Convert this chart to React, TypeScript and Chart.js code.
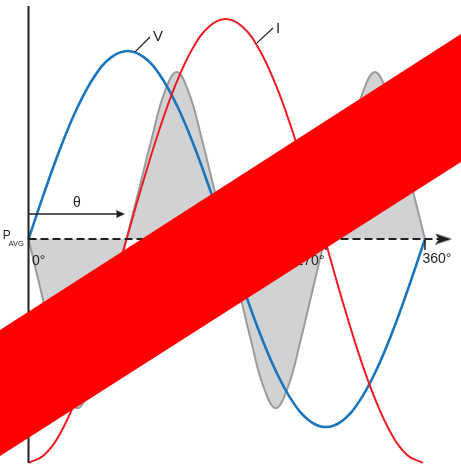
import React, { useEffect, useRef } from 'react';
import { Chart, registerables } from 'chart.js';

Chart.register(...registerables);

// ---- scale window (degrees across, arbitrary units up) ----
const DEG_MIN = -25.9;
const DEG_MAX = 392.7;
const Y_MIN = -122.3;
const Y_MAX = 127.1;

// ---- V (voltage) ----
const V_DEG = [0, 15, 30, 45, 60, 75, 90, 105, 120, 135, 150, 165, 180, 195, 210, 225, 240, 255, 270, 285, 300, 315, 330, 345, 360];
const V_VAL = [0, 25.9, 50, 70.7, 86.6, 96.6, 100, 96.6, 86.6, 70.7, 50, 25.9, 0, -25.9, -50, -70.7, -86.6, -96.6, -100, -96.6, -86.6, -70.7, -50, -25.9, 0];

// ---- I (current) ----
const I_DEG = [0, 14, 29, 44, 59, 74, 89, 104, 119, 134, 149, 164, 179, 194, 209, 224, 239, 254, 269, 284, 299, 314, 329, 344, 358];
const I_VAL = [-119, -115, -103.1, -84.1, -59.5, -30.8, 0, 30.3, 58.5, 82.7, 101.3, 113, 117, 113, 101.3, 82.7, 58.5, 30.3, 0, -30.8, -59.5, -84.1, -103.1, -115, -119];

// ---- P (power, shaded lobes) ----
const P_DEG = [0, 11, 22, 33, 44.5, 56, 67, 78, 89, 100.4, 111.8, 123.1, 134.5, 145.9, 157.3, 168.6, 180, 191, 202, 213, 224.5, 236, 247, 258, 269, 280.4, 291.8, 303.1, 314.5, 325.9, 337.3, 348.6, 360];
const P_VAL = [0, -27, -54, -78, -90, -78, -54, -27, 0, 26.6, 53.3, 77.3, 88.8, 77.3, 53.3, 26.6, 0, -27, -54, -78, -90, -78, -54, -27, 0, 26.6, 53.3, 77.3, 88.8, 77.3, 53.3, 26.6, 0];

// ---- axes / annotations ----
const AXIS_DEG = [0, 373];
const AXIS_VAL = [0, 0];
const AXIS_ARROW_DEG = 376.8;
const Y_AXIS_VAL = [123.9, -119.1];
const THETA_DEG = [0, 84];
const THETA_VAL = 13.3;
const THETA_ARROW_DEG = 83.5;
const TICK_DEG = [270, 360];
const TICK_VAL = [-0.5, -5.9];
const V_LEADER_DEG = [96.7, 110.3];
const V_LEADER_VAL = [99.5, 107.4];
const I_LEADER_DEG = [207.5, 222];
const I_LEADER_VAL = [104.3, 112.2];

// ---- overlay band ----
const BAND_DEG = [DEG_MIN, DEG_MAX];
const BAND_TOP = [-48.4, 109.0];
const BAND_BOTTOM = [-115.4, 41.0];

const TEXT_COLOR = '#231f20';
const FONT = '"Liberation Sans", Arial, Helvetica, sans-serif';

const LABELS = [
  { text: 'V', x: 117.6, y: 107.4, size: 15, align: 'center', baseline: 'middle' },
  { text: 'I', x: 226.5, y: 111.7, size: 15, align: 'center', baseline: 'middle' },
  { text: 'θ', x: 44, y: 19.1, size: 14, align: 'center', baseline: 'middle' },
  { text: '0°', x: 9.3, y: -11.7, size: 14, align: 'center', baseline: 'middle' },
  { text: '270°', x: 255.6, y: -11.7, size: 14, align: 'center', baseline: 'middle' },
  { text: '360°', x: 370.9, y: -10.6, size: 14, align: 'center', baseline: 'middle' },
  { text: 'P', x: -23.4, y: -0.2, size: 12, align: 'left', baseline: 'alphabetic' },
  { text: 'AVG', x: -18.2, y: -3.9, size: 7.5, align: 'left', baseline: 'alphabetic' },
];

const pts = (xs: number[], ys: number[]) => xs.map((x, i) => ({ x, y: ys[i] }));

function makeArrow(len: number, h: number, notch: number) {
  const c = document.createElement('canvas');
  c.width = len;
  c.height = h;
  const g = c.getContext('2d')!;
  g.fillStyle = TEXT_COLOR;
  g.beginPath();
  g.moveTo(0, 0);
  g.lineTo(len, h / 2);
  g.lineTo(0, h);
  g.lineTo(notch, h / 2);
  g.closePath();
  g.fill();
  return c;
}

const labelPlugin = {
  id: 'diagramLabels',
  afterDatasetDraw(chart: any, args: any) {
    if (chart.data.datasets[args.index].label !== 'yAxis') return;
    const { ctx } = chart;
    const xs = chart.scales.x;
    const ys = chart.scales.y;
    ctx.save();
    ctx.fillStyle = TEXT_COLOR;
    for (const l of LABELS) {
      ctx.font = `${l.size}px ${FONT}`;
      ctx.textAlign = l.align;
      ctx.textBaseline = l.baseline;
      ctx.fillText(l.text, xs.getPixelForValue(l.x), ys.getPixelForValue(l.y));
    }
    ctx.restore();
  },
};

export default function App() {
  const ref = useRef<HTMLCanvasElement | null>(null);

  useEffect(() => {
    if (!ref.current) return;
    const bigArrow = makeArrow(17, 11, 4);
    const smallArrow = makeArrow(9, 8, 1);
    const line = (extra: any) => ({
      pointRadius: 0,
      pointHoverRadius: 0,
      tension: 0,
      fill: false,
      ...extra,
    });
    const chart = new Chart(ref.current, {
      type: 'line',
      data: {
        datasets: [
          line({ label: 'bandTop', data: pts(BAND_DEG, BAND_TOP), borderColor: 'rgba(0,0,0,0)', borderWidth: 0, backgroundColor: '#ff0000', fill: '+1', order: 0 }),
          line({ label: 'bandBottom', data: pts(BAND_DEG, BAND_BOTTOM), borderColor: 'rgba(0,0,0,0)', borderWidth: 0, order: 0 }),
          line({ label: 'yAxis', data: pts([0, 0], Y_AXIS_VAL), borderColor: TEXT_COLOR, borderWidth: 2, order: 1 }),
          line({ label: 'vLeader', data: pts(V_LEADER_DEG, V_LEADER_VAL), borderColor: TEXT_COLOR, borderWidth: 1.2, order: 2 }),
          line({ label: 'iLeader', data: pts(I_LEADER_DEG, I_LEADER_VAL), borderColor: TEXT_COLOR, borderWidth: 1.2, order: 2 }),
          line({ label: 'tick270', data: pts([TICK_DEG[0], TICK_DEG[0]], TICK_VAL), borderColor: TEXT_COLOR, borderWidth: 1.5, order: 2 }),
          line({ label: 'tick360', data: pts([TICK_DEG[1], TICK_DEG[1]], TICK_VAL), borderColor: TEXT_COLOR, borderWidth: 1.5, order: 2 }),
          line({ label: 'theta', data: pts(THETA_DEG, [THETA_VAL, THETA_VAL]), borderColor: TEXT_COLOR, borderWidth: 1.3, order: 2 }),
          line({ label: 'thetaHead', data: [{ x: THETA_ARROW_DEG, y: THETA_VAL }], showLine: false, pointRadius: 5, pointStyle: smallArrow, order: 2 }),
          line({ label: 'axisHead', data: [{ x: AXIS_ARROW_DEG, y: 0 }], showLine: false, pointRadius: 5, pointStyle: bigArrow, order: 2 }),
          line({ label: 'xAxis', data: pts(AXIS_DEG, AXIS_VAL), borderColor: TEXT_COLOR, borderWidth: 2, borderDash: [8, 4], order: 3 }),
          line({ label: 'I', data: pts(I_DEG, I_VAL), borderColor: '#ed1c24', borderWidth: 2, tension: 0.4, order: 4 }),
          line({ label: 'V', data: pts(V_DEG, V_VAL), borderColor: '#1b75bc', borderWidth: 2.6, tension: 0.4, order: 5 }),
          line({ label: 'P', data: pts(P_DEG, P_VAL), borderColor: '#9b9b9c', borderWidth: 2, backgroundColor: '#d1d2d4', fill: 'origin', tension: 0.4, order: 6 }),
        ],
      },
      options: {
        animation: false,
        responsive: false,
        events: [],
        layout: { padding: 0, autoPadding: false },
        plugins: { legend: { display: false }, tooltip: { enabled: false } },
        scales: {
          x: { type: 'linear', min: DEG_MIN, max: DEG_MAX, display: false },
          y: { type: 'linear', min: Y_MIN, max: Y_MAX, display: false },
        },
      },
      plugins: [labelPlugin],
    } as any);
    return () => chart.destroy();
  }, []);

  return (
    <div style={{ position: 'fixed', left: 0, top: 0, width: 461, height: 469, background: '#fff' }}>
      <canvas ref={ref} width={461} height={469} style={{ display: 'block' }} />
    </div>
  );
}
